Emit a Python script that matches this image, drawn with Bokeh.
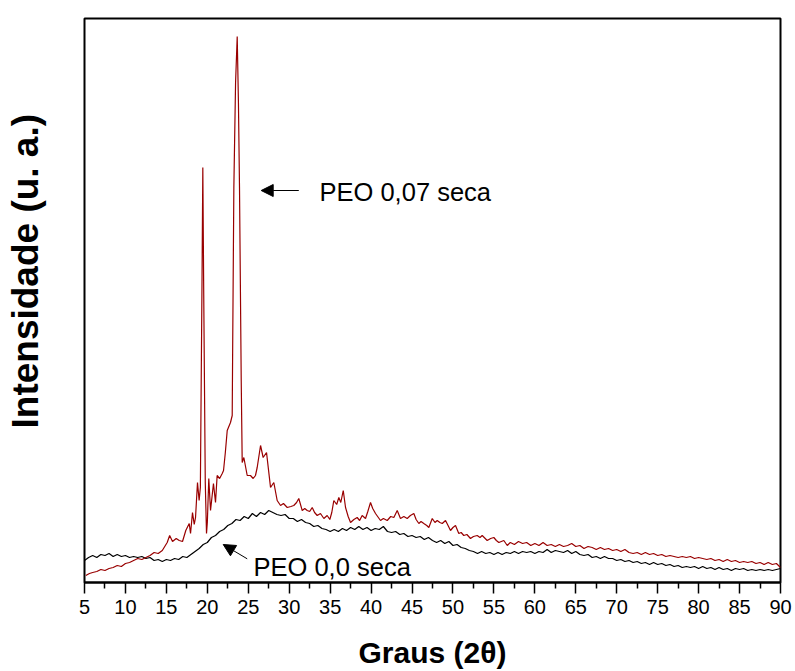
from bokeh.plotting import figure
from bokeh.models import FixedTicker, Label, Arrow, NormalHead, Range1d, Title
from bokeh.embed import file_html
from bokeh.resources import INLINE

# ---- data (2theta in degrees, intensity in arbitrary units) ----
peo007_x = [5.16, 5.6, 6.0, 6.5, 7.0, 7.5, 8.0, 8.5, 9.0, 9.5, 10.0, 10.5, 11.0, 11.5, 12.0, 12.5,
            13.0, 13.5, 14.0, 14.5, 15.1, 15.4, 15.75, 16.2, 16.57, 16.97, 17.37, 17.79, 17.95,
            18.19, 18.4, 18.56, 18.8, 19.0, 19.15, 19.35, 19.45, 19.55, 19.75, 19.9, 20.0, 20.18,
            20.39, 20.75, 21.0, 21.2, 21.5, 21.82, 21.98, 22.2, 22.43, 22.83, 23.04, 23.1, 23.24,
            23.45, 23.65, 23.8, 23.93, 24.14, 24.26, 24.46, 24.87, 25.27, 25.6, 25.88, 26.09, 26.5,
            26.82, 27.23, 27.72, 28.12, 28.53, 28.94, 29.3, 29.76, 30.2, 30.56, 30.9, 31.17,
            31.59, 31.9, 32.2, 32.5, 32.81, 33.1, 33.42, 33.82, 34.23, 34.64, 34.96, 35.2, 35.45,
            35.8, 36.06, 36.3, 36.6, 36.88, 37.2, 37.49, 37.9, 38.3, 38.6, 38.91, 39.32, 39.6,
            39.93, 40.2, 40.54, 40.8, 41.15, 41.5, 41.97, 42.4, 42.78, 43.19, 43.59, 44.0, 44.41,
            44.8, 45.22, 45.5, 45.83, 46.1, 46.44, 46.8, 47.05, 47.47, 47.8, 48.08, 48.4, 48.69,
            49.09, 49.4, 49.7, 50.0, 50.31, 50.71, 51.0, 51.32, 51.7, 52.14, 52.5, 52.96, 53.3,
            53.57, 54.18, 54.6, 54.99, 55.3, 55.6, 56.21, 56.63, 57.0, 57.5, 58.0, 58.5, 59.0,
            59.5, 60.0, 60.5, 61.0, 61.5, 62.0, 62.5, 63.0, 63.5, 64.0, 64.5, 65.0, 65.5, 66.0,
            66.5, 67.0, 67.5, 68.0, 68.5, 69.0, 69.5, 70.0, 70.5, 71.0, 71.5, 72.0, 72.5, 73.0,
            73.5, 74.0, 74.5, 75.0, 75.5, 76.0, 76.5, 77.0, 77.5, 78.0, 78.5, 79.0, 79.5, 80.0,
            80.5, 81.0, 81.5, 82.0, 82.5, 83.0, 83.5, 84.0, 84.5, 85.0, 85.5, 86.0, 86.5, 87.0,
            87.5, 88.0, 88.5, 89.0, 89.5, 90.0]
peo007_y = [7, 9, 10, 11, 13, 12, 14, 15, 17, 16, 19, 20, 22, 24, 23, 25,
            27, 30, 29, 32, 40, 47, 41, 44, 42, 41, 52, 59, 49,
            70, 58, 65, 100, 82, 95, 300, 415, 300, 100, 49, 60, 104,
            72, 99, 80, 107, 104, 109, 112, 130, 152, 160, 167, 240, 395,
            500, 546, 480, 395, 202, 120, 125, 107, 107, 104, 107, 115, 137,
            125, 130, 95, 100, 82, 77, 79, 75, 76, 77, 80, 84,
            72, 74, 72, 71, 75, 70, 67, 69, 64, 67, 63, 70, 82,
            78, 85, 80, 92, 75, 66, 60, 63, 65, 62, 67, 64, 71,
            80, 74, 69, 66, 62, 64, 62, 66, 65, 72, 64, 66, 64,
            67, 69, 63, 59, 61, 59, 57, 55, 64, 60, 62, 60, 59,
            62, 57, 52, 55, 57, 49, 50, 47, 48, 44, 46, 47, 45,
            47, 42, 44, 45, 42, 40, 42, 37, 40, 38, 41, 39, 40,
            37, 39, 37, 40, 37, 38, 36, 38, 36, 37, 39, 36, 37, 34,
            36, 35, 33, 35, 33, 34, 32, 33, 31, 33, 30, 29, 30, 28,
            30, 28, 29, 27, 28, 26, 27, 26, 25, 26, 25, 26, 24, 25,
            24, 23, 24, 22, 23, 21, 23, 21, 22, 20, 21, 20, 21, 19,
            20, 18, 20, 18, 19, 15]

peo00_x = [5.0, 5.5, 6.0, 6.5, 7.0, 7.5, 8.0, 8.5, 9.0, 9.5, 10.0, 10.5, 11.0, 11.5, 12.0, 12.5,
           13.0, 13.5, 14.0, 14.5, 15.0, 15.5, 16.0, 16.5, 17.0, 17.5, 18.0, 18.5, 19.0, 19.5,
           20.0, 20.5, 21.0, 21.5, 22.0, 22.5, 23.0, 23.5, 24.0, 24.5, 25.0, 25.5, 26.0, 26.5,
           27.0, 27.5, 28.0, 28.5, 29.0, 29.5, 30.0, 30.5, 31.0, 31.5, 32.0, 32.5, 33.0, 33.5,
           34.0, 34.5, 35.0, 35.5, 36.0, 36.5, 37.0, 37.5, 38.0, 38.5, 39.0, 39.5, 40.0, 40.5,
           41.0, 41.5, 42.0, 42.5, 43.0, 43.5, 44.0, 44.5, 45.0, 45.5, 46.0, 46.5, 47.0, 47.5,
           48.0, 48.5, 49.0, 49.5, 50.0, 50.5, 51.0, 51.5, 52.0, 52.5, 53.0, 53.5, 54.0, 54.5,
           55.0, 55.5, 56.0, 56.5, 57.0, 57.5, 58.0, 58.5, 59.0, 59.5, 60.0, 60.5, 61.0, 61.5,
           62.0, 62.5, 63.0, 63.5, 64.0, 64.5, 65.0, 65.5, 66.0, 66.5, 67.0, 67.5, 68.0, 68.5,
           69.0, 69.5, 70.0, 70.5, 71.0, 71.5, 72.0, 72.5, 73.0, 73.5, 74.0, 74.5, 75.0, 75.5,
           76.0, 76.5, 77.0, 77.5, 78.0, 78.5, 79.0, 79.5, 80.0, 80.5, 81.0, 81.5, 82.0, 82.5,
           83.0, 83.5, 84.0, 84.5, 85.0, 85.5, 86.0, 86.5, 87.0, 87.5, 88.0, 88.5, 89.0, 89.5,
           90.0]
peo00_y = [22, 25, 27, 25, 28, 27, 29, 26, 28, 26, 27, 25, 26, 25, 26, 24,
           25, 22, 23, 21, 23, 22, 24, 23, 26, 25, 28, 31, 34, 38,
           40, 45, 47, 51, 53, 57, 59, 63, 62, 66, 64, 69, 66, 70,
           68, 72, 70, 68, 67, 68, 64, 64, 61, 63, 60, 59, 56, 57,
           54, 53, 51, 53, 51, 54, 52, 55, 53, 56, 53, 55, 52, 54,
           53, 56, 51, 50, 51, 48, 49, 46, 47, 45, 46, 43, 45, 42,
           40, 42, 39, 41, 37, 38, 35, 34, 32, 31, 29, 31, 29, 30,
           28, 30, 28, 30, 29, 31, 29, 31, 30, 31, 29, 31, 30, 33,
           30, 32, 31, 30, 32, 29, 31, 28, 27, 28, 25, 26, 24, 26,
           24, 24, 22, 23, 21, 22, 20, 21, 19, 20, 18, 20, 18, 19,
           17, 18, 16, 17, 15, 16, 15, 16, 14, 16, 14, 15, 13, 15,
           13, 14, 12, 14, 13, 14, 12, 13, 12, 13, 12, 13, 12, 13,
           14]

x_ticks = list(range(5, 91, 5))
x_minor = [t + 2.5 for t in range(5, 90, 5)]

FONT = "Liberation Sans"

p = figure(width=795, height=671, output_backend="svg", toolbar_location=None,
           x_range=Range1d(5, 90), y_range=Range1d(0, 564),
           min_border_left=84, min_border_right=15, min_border_top=18, min_border_bottom=89)
p.background_fill_color = "white"
p.border_fill_color = "white"
p.grid.visible = False
p.outline_line_color = "black"
p.outline_line_width = 2
p.outline_line_alpha = 1

p.line(peo00_x, peo00_y, line_color="black", line_width=1.2)
p.line(peo007_x, peo007_y, line_color="#990000", line_width=1.2)

p.yaxis.visible = False

# y title: a thin spacer panel next to the frame, then the bold title outside it
spacer = Title(text=" ", text_font_size="1px", standoff=36)
ytitle = Title(text="Intensidade (u. a.)", align="left", offset=154, standoff=0,
               vertical_align="bottom", text_font=FONT, text_font_style="bold",
               text_font_size="37px", text_color="black")
p.add_layout(spacer, "left")
p.add_layout(ytitle, "left")

ax = p.xaxis[0]
ax.ticker = FixedTicker(ticks=x_ticks, minor_ticks=x_minor)
ax.axis_line_width = 2
ax.major_tick_in = 0
ax.major_tick_out = 11
ax.minor_tick_in = 0
ax.minor_tick_out = 6
ax.major_tick_line_width = 1.5
ax.minor_tick_line_width = 1.5
ax.major_label_text_font = FONT
ax.major_label_text_font_size = "20px"
ax.major_label_text_color = "black"
ax.major_label_standoff = 6
ax.axis_label = "Graus (2θ)"
ax.axis_label_text_font = FONT
ax.axis_label_text_font_style = "bold"
ax.axis_label_text_font_size = "30px"
ax.axis_label_text_color = "black"
ax.axis_label_standoff = 19

lab1 = Label(x=33.7, y=391, text="PEO 0,07 seca", text_font=FONT, text_font_size="25.5px",
             text_color="black", text_baseline="middle", text_align="left")
lab2 = Label(x=25.64, y=16, text="PEO 0,0 seca", text_font=FONT, text_font_size="25.5px",
             text_color="black", text_baseline="middle", text_align="left")
p.add_layout(lab1)
p.add_layout(lab2)

p.add_layout(Arrow(end=NormalHead(size=12, fill_color="black", line_color="black"),
                   x_start=31.17, y_start=392, x_end=26.58, y_end=392,
                   line_color="black", line_width=1))
p.add_layout(Arrow(end=NormalHead(size=12, fill_color="black", line_color="black"),
                   x_start=24.87, y_start=23.7, x_end=21.94, y_end=38,
                   line_color="black", line_width=1))

open("out.html", "w").write(file_html(p, INLINE))
